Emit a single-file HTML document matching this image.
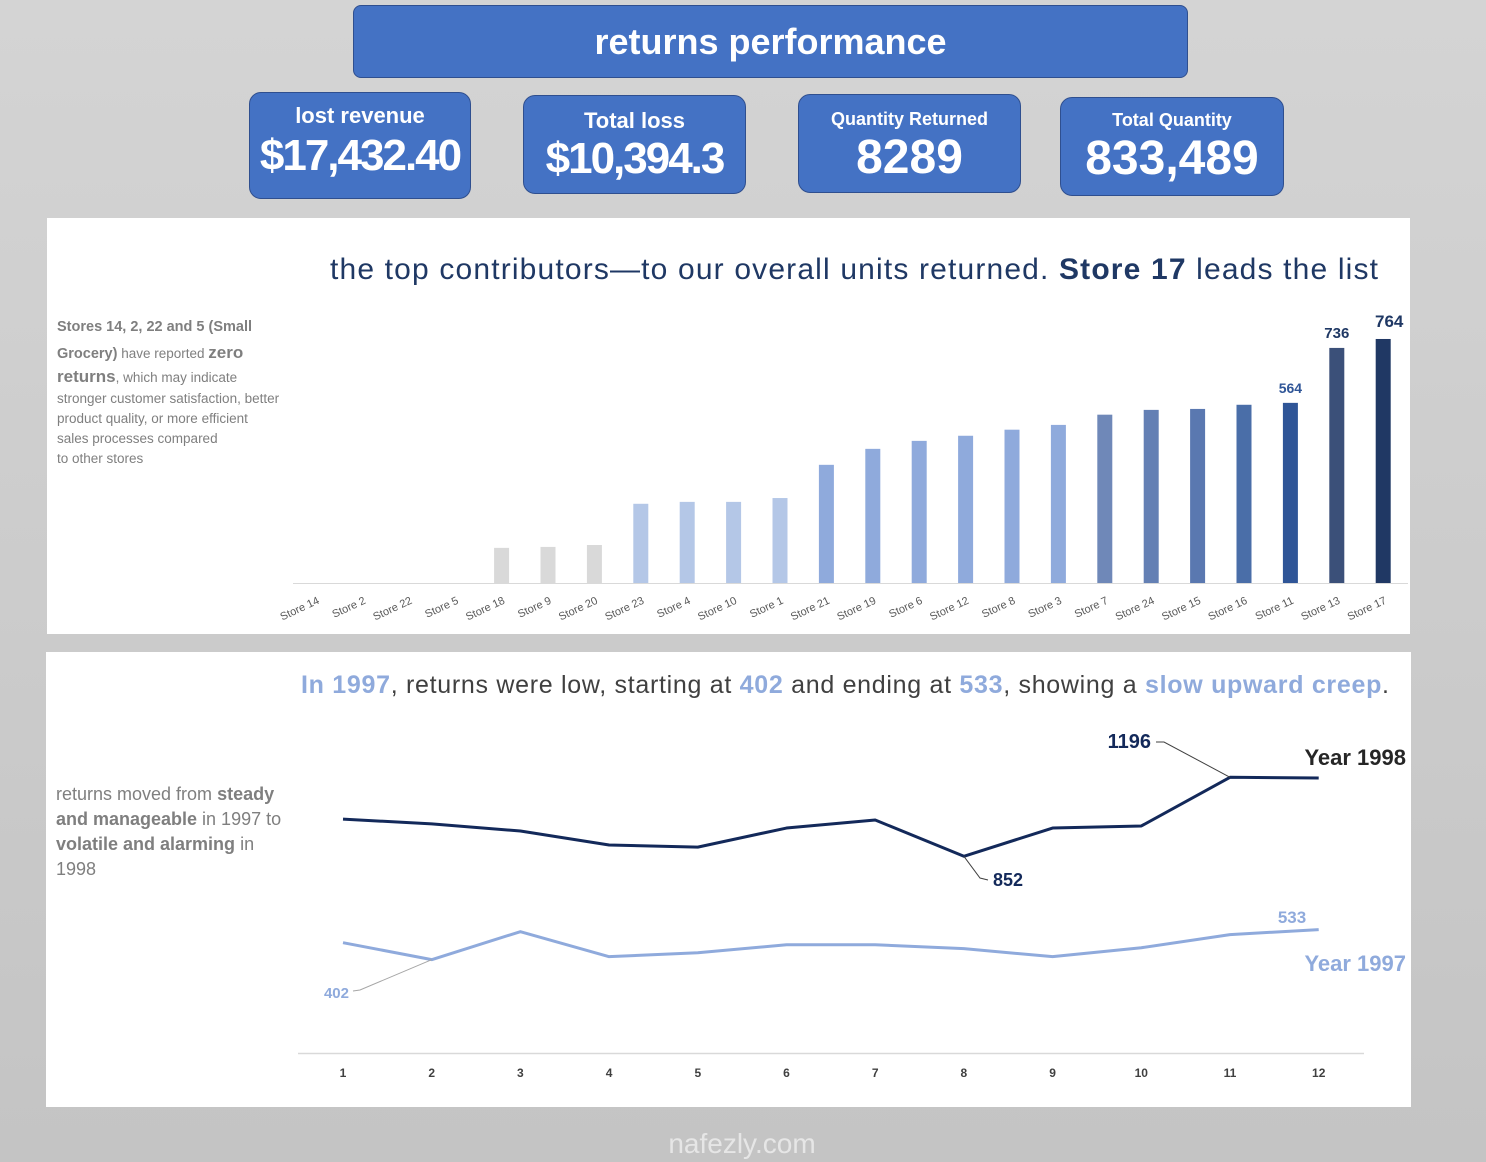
<!DOCTYPE html>
<html><head><meta charset="utf-8">
<style>
html,body{margin:0;padding:0}
body{width:1486px;height:1162px;overflow:hidden;background:linear-gradient(#d4d4d4,#c4c4c4);font-family:"Liberation Sans",sans-serif;position:relative}
.box{position:absolute;background:#4472c4;border:1.5px solid #2f4f8f;border-radius:12px;color:#fff;text-align:center;font-weight:bold}
.panel{position:absolute;background:#fff}
svg text{font-family:"Liberation Sans",sans-serif}
.nl{position:absolute;left:57px;white-space:nowrap;color:#7f7f7f;font-size:13.5px}
</style></head>
<body>
<div class="box" style="left:353px;top:5px;width:833px;height:71px;line-height:71px;font-size:36px;border-radius:8px">returns performance</div>
<div class="box" style="left:249px;top:92px;width:220px;height:105px"><div style="font-size:22px;margin-top:10px">lost revenue</div><div style="font-size:44px;margin-top:2px;letter-spacing:-2px">$17,432.40</div></div>
<div class="box" style="left:523px;top:95px;width:221px;height:97px"><div style="font-size:22px;margin-top:12px">Total loss</div><div style="font-size:44px;margin-top:0px;letter-spacing:-2px">$10,394.3</div></div>
<div class="box" style="left:798px;top:94px;width:221px;height:97px"><div style="font-size:18px;margin-top:14px">Quantity Returned</div><div style="font-size:48px;margin-top:0px">8289</div></div>
<div class="box" style="left:1060px;top:97px;width:222px;height:97px"><div style="font-size:18px;margin-top:12px">Total Quantity</div><div style="font-size:48px;margin-top:0px">833,489</div></div>

<div class="panel" style="left:47px;top:218px;width:1363px;height:416px"></div>
<div class="panel" style="left:46px;top:652px;width:1365px;height:455px"></div>

<div>
<div class="nl" style="top:319px;font-weight:bold;font-size:14.5px">Stores 14, 2, 22 and 5 (Small</div>
<div class="nl" style="top:343px"><b style="font-size:14.5px">Grocery)</b> have reported <b style="font-size:17px">zero</b></div>
<div class="nl" style="top:367px"><b style="font-size:17px">returns</b>, which may indicate</div>
<div class="nl" style="top:391px">stronger customer satisfaction, better</div>
<div class="nl" style="top:411px">product quality, or more efficient</div>
<div class="nl" style="top:431px">sales processes compared</div>
<div class="nl" style="top:451px">to other stores</div>
</div>
<div style="position:absolute;left:56px;top:782px;width:240px;color:#7f7f7f;font-size:18px;line-height:25px">returns moved from <b>steady and manageable</b> in 1997 to <b>volatile and alarming</b> in 1998</div>

<svg id="chart" width="1486" height="1162" style="position:absolute;left:0;top:0">
<text x="330" y="279" font-size="30" fill="#1f3864" textLength="1048">the top contributors—to our overall units returned. <tspan font-weight="bold">Store 17</tspan> leads the list</text>
<text x="301" y="693" font-size="25" fill="#404040" textLength="1088"><tspan fill="#8faadc" font-weight="bold">In 1997</tspan>, returns were low, starting at <tspan fill="#8faadc" font-weight="bold">402</tspan> and ending at <tspan fill="#8faadc" font-weight="bold">533</tspan>, showing a <tspan fill="#8faadc" font-weight="bold">slow upward creep</tspan>.</text>
<g id="bars"></g>
<g id="lines"></g>
<text x="742" y="1153" font-size="28" fill="#e6e6e6" text-anchor="middle">nafezly.com</text>
</svg>
<script>
const stores=["Store 14","Store 2","Store 22","Store 5","Store 18","Store 9","Store 20","Store 23","Store 4","Store 10","Store 1","Store 21","Store 19","Store 6","Store 12","Store 8","Store 3","Store 7","Store 24","Store 15","Store 16","Store 11","Store 13","Store 17"];
const returnsQty=[0,0,0,0,110,113,119,248,254,254,266,370,420,445,461,480,495,527,542,545,558,564,736,764];
const labeledStores=["Store 11","Store 13","Store 17"];
const months=[1,2,3,4,5,6,7,8,9,10,11,12];
const y1998=[1014,993,962,901,892,975,1010,852,975,984,1196,1193];
const y1997=[476,402,524,415,432,467,467,450,415,454,511,533];

const NS="http://www.w3.org/2000/svg";
function mk(t,a,p){const e=document.createElementNS(NS,t);for(const k in a)e.setAttribute(k,a[k]);p.appendChild(e);return e;}
const bg=document.getElementById('bars');
const bx=i=>316+i*46.4, by=v=>583-v*0.3194;
function barColor(i,v){if(v<200)return"#d9d9d9";if(v<300)return"#b4c7e7";if(v<500)return"#8faadc";
 const c=["#6f88b8","#6480b4","#5a78b0","#4a6ea8","#2f5597","#3b5079","#203864"];return c[Math.min(i-17,6)];}
mk('line',{x1:293,x2:1408,y1:583.5,y2:583.5,stroke:"#d9d9d9","stroke-width":1},bg);
stores.forEach((s,i)=>{
 const v=returnsQty[i];
 const r=mk('rect',{x:bx(i)-7.5,y:by(v),width:15,height:v*0.3194,fill:barColor(i,v)},bg);
 
 
 const t=mk('text',{x:bx(i)+4,y:603,"font-size":11,fill:"#595959","text-anchor":"end",transform:`rotate(-25 ${bx(i)+4} 603)`},bg);
 t.textContent=s;
 
 
 if(labeledStores.includes(s)){
  const l=mk('text',{x:bx(i)+(s==="Store 17"?6:0),y:by(v)-(s==="Store 17"?12:10),"font-size":s==="Store 11"?14:(s==="Store 13"?15:17),"font-weight":"bold",fill:s==="Store 11"?"#2f5597":"#1f3864","text-anchor":"middle"},bg);
  l.textContent=v;
  
  
 }
});
const lg=document.getElementById('lines');
const lx=m=>343+(m-1)*88.7, ly=v=>1052-v*0.2297;
mk('line',{x1:298,x2:1364,y1:1053.5,y2:1053.5,stroke:"#d9d9d9","stroke-width":1.5},lg);
months.forEach(m=>{const t=mk('text',{x:lx(m),y:1077,"font-size":12,"font-weight":"bold",fill:"#404040","text-anchor":"middle"},lg);t.textContent=m;
 });
const p98=mk('polyline',{points:months.map((m,i)=>lx(m)+","+ly(y1998[i])).join(" "),fill:"none",stroke:"#13295a","stroke-width":3,"stroke-linejoin":"round"},lg);

const p97=mk('polyline',{points:months.map((m,i)=>lx(m)+","+ly(y1997[i])).join(" "),fill:"none",stroke:"#8faadc","stroke-width":3,"stroke-linejoin":"round"},lg);

const iMax=y1998.indexOf(Math.max(...y1998)), iMin=y1998.indexOf(Math.min(...y1998)), i97=y1997.indexOf(Math.min(...y1997)), i97e=11;
mk('polyline',{points:`${lx(months[iMax])},${ly(y1998[iMax])} 1164,742 1156,742`,fill:"none",stroke:"#404040","stroke-width":1},lg);
let t=mk('text',{x:1151,y:748,"font-size":20,"font-weight":"bold",fill:"#13295a","text-anchor":"end"},lg);t.textContent=y1998[iMax];

mk('polyline',{points:`${lx(months[iMin])},${ly(y1998[iMin])} 980,878 988,880`,fill:"none",stroke:"#404040","stroke-width":1},lg);
t=mk('text',{x:993,y:886,"font-size":18,"font-weight":"bold",fill:"#13295a"},lg);t.textContent=y1998[iMin];

mk('polyline',{points:`${lx(months[i97])},${ly(y1997[i97])} 360,990 353,991`,fill:"none",stroke:"#a6a6a6","stroke-width":1},lg);
t=mk('text',{x:349,y:998,"font-size":15,"font-weight":"bold",fill:"#8faadc","text-anchor":"end"},lg);t.textContent=y1997[i97];

t=mk('text',{x:1292,y:923,"font-size":17,"font-weight":"bold",fill:"#8faadc","text-anchor":"middle"},lg);t.textContent=y1997[i97e];

t=mk('text',{x:1406,y:765,"font-size":22,"font-weight":"bold",fill:"#262626","text-anchor":"end"},lg);t.textContent="Year 1998";

t=mk('text',{x:1406,y:971,"font-size":22,"font-weight":"bold",fill:"#8faadc","text-anchor":"end"},lg);t.textContent="Year 1997";

</script>
</body></html>
